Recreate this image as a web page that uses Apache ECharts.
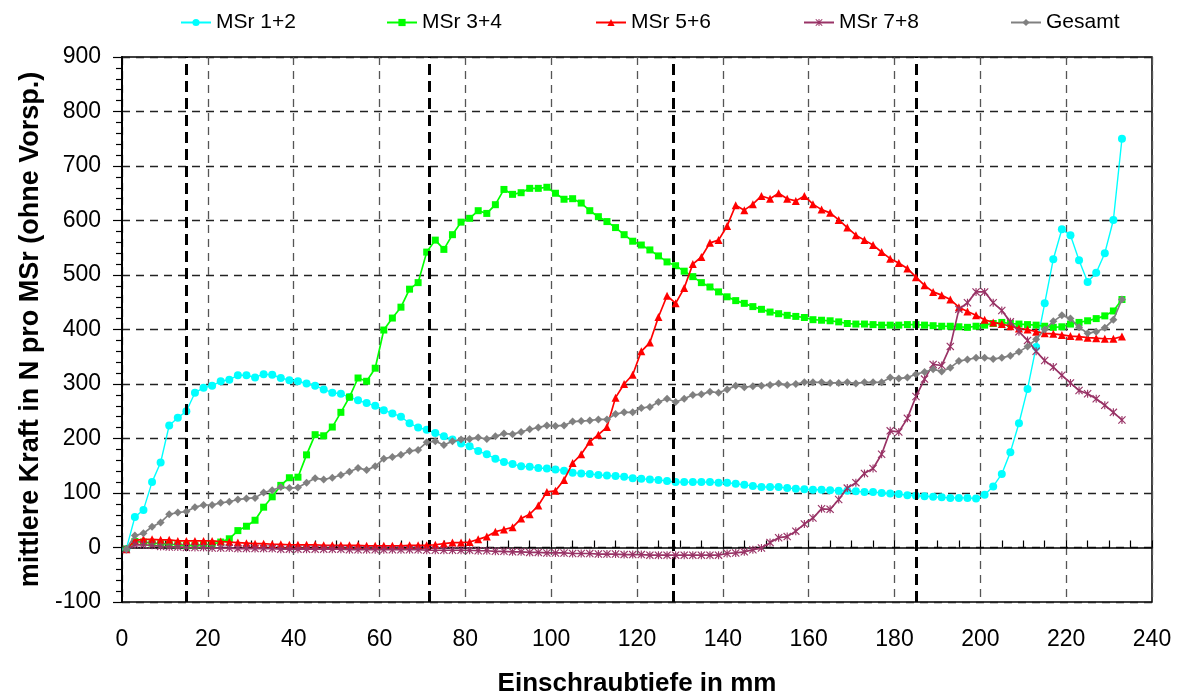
<!DOCTYPE html>
<html>
<head>
<meta charset="utf-8">
<script src="https://cdn.jsdelivr.net/npm/echarts@6/dist/echarts.min.js"></script>
<style>
  html, body { margin: 0; padding: 0; background: #fff; }
  #chart { width: 1182px; height: 698px; }
</style>
</head>
<body>
<div id="chart"></div>
<script>
// Einschraubtiefe (mm) der Messpunkte
const depth = [
  1, 3, 5, 7, 9, 11, 13, 15, 17, 19,
  21, 23, 25, 27, 29, 31, 33, 35, 37, 39,
  41, 43, 45, 47, 49, 51, 53, 55, 57, 59,
  61, 63, 65, 67, 69, 71, 73, 75, 77, 79,
  81, 83, 85, 87, 89, 91, 93, 95, 97, 99,
  101, 103, 105, 107, 109, 111, 113, 115, 117, 119,
  121, 123, 125, 127, 129, 131, 133, 135, 137, 139,
  141, 143, 145, 147, 149, 151, 153, 155, 157, 159,
  161, 163, 165, 167, 169, 171, 173, 175, 177, 179,
  181, 183, 185, 187, 189, 191, 193, 195, 197, 199,
  201, 203, 205, 207, 209, 211, 213, 215, 217, 219,
  221, 223, 225, 227, 229, 231, 233
];

// mittlere Kraft in N pro MSr
const msr12 = [
  -3, 56, 69, 120, 156, 224, 238, 250, 284, 293,
  297, 305, 308, 316, 316, 312, 318, 317, 311, 307,
  305, 301, 297, 290, 284, 282, 276, 270, 265, 260,
  252, 246, 240, 228, 220, 216, 210, 204, 198, 191,
  186, 177, 171, 163, 157, 153, 149, 148, 146, 145,
  143, 141, 137, 136, 135, 133, 132, 131, 130, 127,
  126, 125, 124, 122, 120, 120, 120, 120, 120, 119,
  119, 117, 115, 113, 111, 111, 111, 109, 108, 107,
  106, 106, 105, 104, 104, 103, 102, 102, 100, 99,
  98, 96, 95, 94, 93, 92, 91, 91, 91, 90,
  97, 112, 135, 175, 228, 291, 368, 448, 529, 584,
  573, 527, 487, 504, 540, 601, 750
];

const msr34 = [
  -3, 11, 10, 8, 7, 6, 5, 4, 4, 5,
  6, 10, 16, 31, 39, 50, 74, 93, 114, 128,
  129, 170, 207, 205, 221, 248, 276, 311, 305, 329,
  399, 421, 441, 474, 486, 542, 564, 547, 574, 597,
  604, 618, 613, 629, 657, 648, 651, 659, 659, 661,
  650, 639, 640, 632, 618, 607, 598, 587, 574, 562,
  555, 546, 535, 524, 517, 507, 497, 486, 478, 469,
  460, 453, 448, 442, 437, 432, 429, 426, 424, 422,
  418, 417, 416, 414, 411, 410, 410, 409, 408, 408,
  408, 409, 409, 408, 407, 406, 406, 405, 404, 406,
  408, 411, 413, 411, 410, 409, 408, 406, 404, 405,
  410, 413, 416, 420, 425, 434, 455
];

const msr56 = [
  -3, 13, 15, 15, 14, 14, 12, 12, 12, 12,
  12, 11, 10, 9, 8, 7, 7, 6, 6, 5,
  5, 5, 5, 4, 4, 4, 4, 4, 3, 3,
  3, 3, 3, 4, 4, 4, 5, 7, 9, 9,
  10, 15, 20, 29, 33, 37, 53, 61, 77, 102,
  104, 124, 155, 171, 194, 207, 221, 275, 300, 317,
  360, 376, 423, 462, 448, 476, 520, 533, 559, 564,
  590, 628, 619, 630, 645, 640, 650, 640, 636, 645,
  630, 620, 614, 601, 587, 573, 564, 555, 542, 530,
  522, 512, 496, 481, 469, 463, 455, 441, 433, 426,
  418, 413, 410, 406, 402, 400, 396, 393, 392, 390,
  388, 387, 385, 384, 383, 383, 387
];

const msr78 = [
  -3, 5, 5, 4, 2, 1, 1, 0, 0, 0,
  -1, -1, -1, -2, -2, -2, -2, -2, -3, -3,
  -3, -3, -3, -3, -3, -3, -4, -4, -4, -4,
  -4, -4, -4, -4, -4, -5, -5, -5, -5, -5,
  -5, -6, -6, -7, -7, -8, -8, -9, -9, -10,
  -10, -10, -11, -11, -11, -12, -12, -12, -13, -13,
  -13, -14, -14, -14, -14, -14, -14, -14, -14, -14,
  -11, -10, -8, -4, -1, 9, 18, 20, 30, 43,
  54, 71, 70, 88, 109, 119, 136, 145, 171, 214,
  212, 237, 277, 309, 336, 334, 369, 437, 449, 469,
  469, 449, 435, 414, 396, 380, 360, 343, 331, 316,
  302, 288, 282, 273, 261, 248, 234
];

const gesamt = [
  -3, 22, 26, 38, 46, 61, 64, 66, 74, 78,
  78, 82, 84, 88, 90, 91, 101, 105, 111, 109,
  110, 119, 127, 125, 128, 133, 139, 146, 142, 149,
  163, 166, 170, 177, 179, 193, 195, 188, 195, 198,
  199, 202, 199, 204, 209, 208, 212, 217, 220, 224,
  223, 224, 231, 232, 233, 235, 235, 245, 248, 248,
  256, 258, 267, 273, 267, 273, 280, 281, 286, 284,
  290, 297, 294, 296, 297, 298, 301, 298, 300, 303,
  303, 303, 302, 302, 303, 301, 303, 303, 303, 312,
  310, 312, 318, 322, 327, 323, 330, 342, 345, 348,
  348, 346, 348, 352, 359, 369, 382, 400, 415, 426,
  420, 404, 393, 396, 403, 418, 455
];

// Bereichsgrenzen (dicke Strichlinien)
const boundaries = [15, 71.7, 128.4, 185.1];

const seriesNames = ['MSr 1+2', 'MSr 3+4', 'MSr 5+6', 'MSr 7+8', 'Gesamt'];
const seriesValues = [msr12, msr34, msr56, msr78, gesamt];

const FONT = 'Liberation Sans, Arial, Helvetica, sans-serif';
const starSymbol = 'path://M1,0 L5,4 L9,0 L10,1 L6,5 L10,9 L9,10 L5,6 L1,10 L0,9 L4,5 L0,1 Z M4.3,0 L5.7,0 L5.7,10 L4.3,10 Z';

const styles = [
  { color: '#00FFFF', symbol: 'circle', size: 8, width: 1.4 },
  { color: '#00FF00', symbol: 'rect', size: 7, width: 1.7 },
  { color: '#FF0000', symbol: 'triangle', size: 8, width: 1.7 },
  { color: '#993366', symbol: starSymbol, size: 8, width: 1.7 },
  { color: '#808080', symbol: 'diamond', size: 8, width: 1.7 }
];

const chart = echarts.init(document.getElementById('chart'), null, { renderer: 'canvas' });

const series = seriesNames.map((name, k) => ({
  name: name,
  type: 'line',
  xAxisIndex: 0,
  yAxisIndex: 0,
  data: depth.map((d, i) => [d, seriesValues[k][i]]),
  symbol: styles[k].symbol,
  symbolSize: styles[k].size,
  showSymbol: true,
  color: styles[k].color,
  lineStyle: { color: styles[k].color, width: styles[k].width },
  itemStyle: { color: styles[k].color },
  emphasis: { disabled: true },
  z: 3 + k
}));

// dicke senkrechte Strichlinien
series.unshift({
  name: 'Grenzen',
  type: 'line',
  data: [],
  z: 2,
  markLine: {
    silent: true,
    symbol: 'none',
    label: { show: false },
    lineStyle: { color: '#000', type: [11, 6], width: 3 },
    data: boundaries.map(x => ({ xAxis: x }))
  }
});

const legendLefts = [175, 381, 590, 798, 1005];
const legends = seriesNames.map((name, k) => ({
  data: [name],
  left: legendLefts[k],
  top: 7,
  itemWidth: 30,
  itemHeight: 9,
  itemGap: 5,
  selectedMode: false,
  textStyle: { fontFamily: FONT, fontSize: 21, color: '#000' }
}));

chart.setOption({
  animation: false,
  backgroundColor: '#fff',
  legend: legends,
  grid: {
    left: 122, right: 30, top: 57, bottom: 96,
    outerBoundsMode: 'none',
    containLabel: false,
    show: true, borderColor: '#000', borderWidth: 1.5, backgroundColor: 'transparent'
  },
  xAxis: [
    {
      type: 'value', min: 0, max: 240, interval: 20,
      position: 'bottom',
      axisLine: { show: false, onZero: false },
      axisTick: { show: false },
      axisLabel: { fontFamily: FONT, fontSize: 23, color: '#000', margin: 26 },
      splitLine: { show: true, lineStyle: { color: '#555', type: [8, 6], width: 1.3 } },
      name: 'Einschraubtiefe in mm',
      nameLocation: 'middle',
      nameGap: 69,
      nameTextStyle: { fontFamily: FONT, fontSize: 26, fontWeight: 'bold', color: '#000' }
    },
    {
      type: 'value', min: 0, max: 240, interval: 20,
      position: 'bottom',
      axisLine: { show: true, onZero: true, lineStyle: { color: '#000', width: 1.5 } },
      axisTick: { show: true, inside: true, length: 7, lineStyle: { color: '#000', width: 1.2 } },
      minorTick: { show: true, splitNumber: 4, length: 7, lineStyle: { color: '#000', width: 1.2 } },
      axisLabel: { show: false },
      splitLine: { show: false }
    }
  ],
  yAxis: {
    type: 'value', min: -100, max: 900, interval: 100,
    axisLine: { show: true, lineStyle: { color: '#000', width: 2 } },
    axisTick: { show: true, length: 9, lineStyle: { color: '#000', width: 1.2 } },
    minorTick: { show: true, splitNumber: 5, length: 6, lineStyle: { color: '#000', width: 1.2 } },
    axisLabel: { fontFamily: FONT, fontSize: 23, color: '#000', margin: 21 },
    splitLine: { show: true, lineStyle: { color: '#222', type: [8, 6], width: 1.3 } },
    name: 'mittlere Kraft in N pro MSr (ohne Vorsp.)',
    nameLocation: 'middle',
    nameGap: 75,
    nameTextStyle: { fontFamily: FONT, fontSize: 27, fontWeight: 'bold', color: '#000' }
  },
  series: series
});
</script>
</body>
</html>
